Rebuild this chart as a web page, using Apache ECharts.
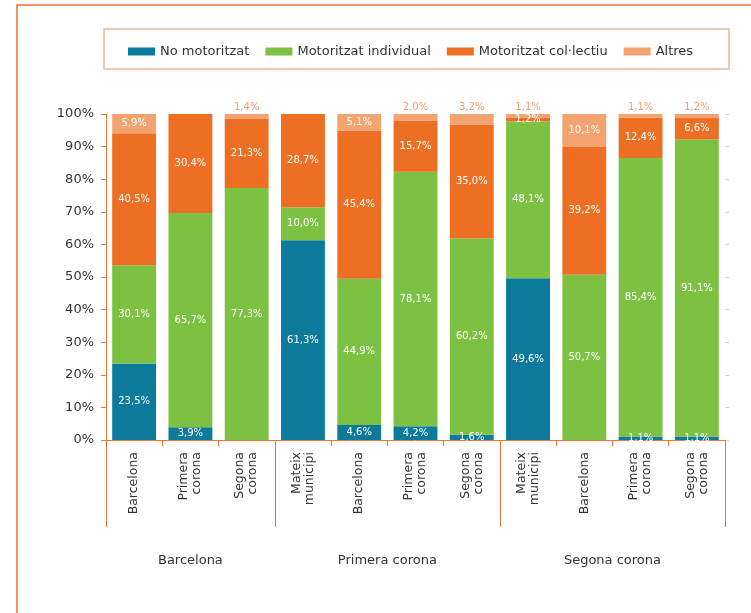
<!DOCTYPE html>
<html>
<head>
<meta charset="utf-8">
<script src="https://cdn.jsdelivr.net/npm/echarts@6/dist/echarts.min.js"></script>
<style>
html,body{margin:0;padding:0;background:#fff;}
#c{width:751px;height:613px;}
</style>
</head>
<body>
<div id="c"></div>
<script>
// ---- data ----
var categories = ['Barcelona','Primera\ncorona','Segona\ncorona','Mateix\nmunicipi','Barcelona','Primera\ncorona','Segona\ncorona','Mateix\nmunicipi','Barcelona','Primera\ncorona','Segona\ncorona'];
var groupNames = ['Barcelona','Primera corona','Segona corona'];
var groupSizes = [3, 4, 4];
var seriesNames = ['No motoritzat','Motoritzat individual','Motoritzat col·lectiu','Altres'];
var noMotoritzat = [23.5, 3.9, 0, 61.3, 4.6, 4.2, 1.6, 49.6, 0, 1.1, 1.1];
var individual   = [30.1, 65.7, 77.3, 10.0, 44.9, 78.1, 60.2, 48.1, 50.7, 85.4, 91.1];
var collectiu    = [40.5, 30.4, 21.3, 28.7, 45.4, 15.7, 35.0, 1.2, 39.2, 12.4, 6.6];
var altres       = [5.9, 0, 1.4, 0, 5.1, 2.0, 3.2, 1.1, 10.1, 1.1, 1.2];
var yTicks = [0,10,20,30,40,50,60,70,80,90,100];

// ---- styling ----
var FONT = '"DejaVu Sans", Verdana, sans-serif';
var ORANGE_LINE = '#e9773a';
var colors = ['#0c7a9a', '#7cc142', '#ec6f23', '#f2a36f'];

function fmt(v){ return v.toFixed(1).replace('.', ',') + '%'; }

// group boundaries and centers (in category units)
var bounds = [0], centers = [];
var acc = 0;
groupSizes.forEach(function(s){ centers.push(acc + s/2); acc += s; bounds.push(acc); });

function mkSeries(name, arr, idx){
  var data = arr.map(function(v){
    var item = {value: v};
    if (idx === 3 && v > 0 && v < 5) {
      item.label = {position: 'top', color: '#f0a070', distance: 2};
    }
    return item;
  });
  return {
    name: name, type: 'bar', stack: 'total', barWidth: '78%',
    itemStyle: {color: colors[idx]},
    label: {
      show: true, position: 'inside', color: '#ffffff', fontSize: 10, fontFamily: FONT,
      formatter: function(p){ return p.value > 0 ? fmt(p.value) : ''; }
    },
    data: data
  };
}

var chart = echarts.init(document.getElementById('c'), null, {renderer: 'canvas'});
var option = {
  backgroundColor: '#ffffff',
  animation: false,
  textStyle: {fontFamily: FONT},
  graphic: [
    {type: 'polyline', shape: {points: [[17, 613], [17, 5], [751, 5]]}, style: {stroke: '#e8722c', lineWidth: 1.5, fill: null}},
    {type: 'rect', shape: {x: 104, y: 29, width: 625, height: 40}, style: {stroke: '#edb895', lineWidth: 1.5, fill: null}}
  ],
  legend: {
    left: 123, top: 40, itemWidth: 27, itemHeight: 8, itemGap: 16,
    icon: 'rect',
    textStyle: {fontSize: 13, color: '#333', fontFamily: FONT},
    data: seriesNames
  },
  grid: {left: 106, right: 26, top: 114, bottom: 173},
  xAxis: [
    {
      type: 'category', data: categories, position: 'bottom',
      axisLine: {show: true, lineStyle: {color: ORANGE_LINE, width: 1}},
      axisTick: {show: true, length: 6, interval: 0, lineStyle: {color: ORANGE_LINE}},
      axisLabel: {rotate: 90, interval: 0, margin: 12, fontSize: 12.5, color: '#333', lineHeight: 13, fontFamily: FONT}
    },
    {
      type: 'value', min: 0, max: categories.length, position: 'bottom',
      axisLine: {show: false},
      splitLine: {show: false},
      axisTick: {show: true, length: 87, customValues: bounds, lineStyle: {color: ORANGE_LINE}},
      axisLabel: {
        show: true, customValues: centers, margin: 114, fontSize: 13, color: '#333', fontFamily: FONT,
        formatter: function(v){ var i = centers.indexOf(v); return i >= 0 ? groupNames[i] : ''; }
      }
    }
  ],
  yAxis: [
    {
      type: 'value', min: 0, max: 100, interval: 10,
      axisLine: {show: true, lineStyle: {color: ORANGE_LINE}},
      axisTick: {show: true, length: 5, lineStyle: {color: ORANGE_LINE}},
      splitLine: {show: false},
      axisLabel: {
        margin: 12, fontSize: 13, color: '#333', fontFamily: FONT,
        customValues: yTicks,
        formatter: function(v){ return v + '%'; }
      }
    },
    {
      type: 'value', min: 0, max: 100, interval: 10, position: 'right',
      axisLine: {show: false},
      axisTick: {show: true, length: 4, lineStyle: {color: '#d8d2ce'}},
      axisLabel: {show: false},
      splitLine: {show: false}
    }
  ],
  series: [
    mkSeries(seriesNames[0], noMotoritzat, 0),
    mkSeries(seriesNames[1], individual, 1),
    mkSeries(seriesNames[2], collectiu, 2),
    mkSeries(seriesNames[3], altres, 3)
  ]
};
chart.setOption(option);
</script>
</body>
</html>
